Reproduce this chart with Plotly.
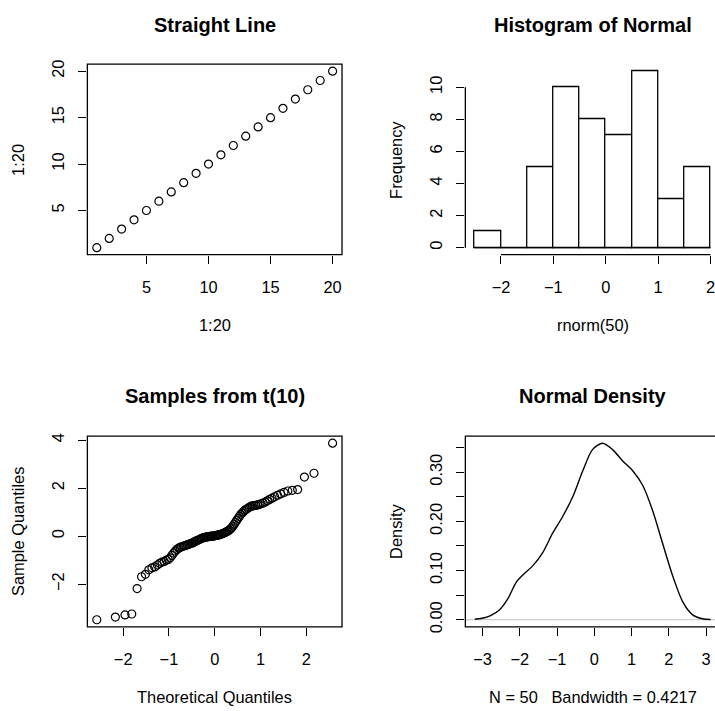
import statistics
import plotly.graph_objects as go

# ---------------- data ----------------
line_x = list(range(1, 21))
line_y = list(range(1, 21))

hist_breaks = [-2.5, -2.0, -1.5, -1.0, -0.5, 0.0, 0.5, 1.0, 1.5, 2.0]
hist_counts = [1, 0, 5, 10, 8, 7, 11, 3, 5]

# sorted sample from t(10), n = 100
t_sample = [
    -3.48, -3.37, -3.28, -3.24, -2.18, -1.69, -1.59, -1.40, -1.32, -1.28,
    -1.20, -1.13, -1.08, -1.05, -1.00, -0.97, -0.90, -0.80, -0.70, -0.62,
    -0.55, -0.50, -0.47, -0.44, -0.42, -0.40, -0.38, -0.36, -0.34, -0.32,
    -0.30, -0.28, -0.25, -0.22, -0.19, -0.17, -0.15, -0.12, -0.10, -0.08,
    -0.06, -0.05, -0.04, -0.03, -0.02, -0.01, -0.005, 0.00, 0.00, 0.01,
    0.02, 0.03, 0.04, 0.05, 0.06, 0.08, 0.10, 0.12, 0.14, 0.16,
    0.19, 0.22, 0.26, 0.30, 0.35, 0.42, 0.50, 0.58, 0.66, 0.74,
    0.82, 0.90, 0.96, 1.02, 1.08, 1.12, 1.16, 1.20, 1.24, 1.26,
    1.27, 1.28, 1.30, 1.32, 1.35, 1.38, 1.42, 1.47, 1.53, 1.58,
    1.64, 1.70, 1.76, 1.82, 1.88, 1.91, 1.94, 2.46, 2.62, 3.87,
]

dens_x = [-3.21, -2.95, -2.80, -2.55, -2.32, -2.10, -1.92, -1.65, -1.39, -1.12,
          -0.85, -0.58, -0.31, -0.05, 0.22, 0.49, 0.76, 1.03, 1.30, 1.56,
          1.83, 2.10, 2.37, 2.64, 2.90, 3.12]
dens_y = [0.001, 0.004, 0.008, 0.020, 0.043, 0.076, 0.091, 0.110, 0.136, 0.176,
          0.210, 0.250, 0.303, 0.346, 0.359, 0.346, 0.323, 0.303, 0.273, 0.223,
          0.156, 0.090, 0.037, 0.010, 0.002, 0.0006]
dens_n = 50
dens_bw = 0.4217

# theoretical normal quantiles at ppoints(n)
n_t = len(t_sample)
nd = statistics.NormalDist()
theo_q = [nd.inv_cdf((i - 0.5) / n_t) for i in range(1, n_t + 1)]

# ---------------- geometry (pixels) ----------------
W, H = 715, 711
COL_L = (87.5, 342.5)
COL_R = (466.0, 721.0)
ROW_T = (61.0, 254.3)
ROW_B = (438.3, 631.7)


def px(x):
    return x / W


def py(y):
    return 1 - y / H


def rrange(lo, hi):
    d = hi - lo
    return [lo - 0.04 * d, hi + 0.04 * d]


def clipped(rng, col):
    # visible part of a range whose plot region runs past the page edge
    lo, hi = rng
    frac = (min(col[1], W) - col[0]) / (col[1] - col[0])
    return [lo, lo + (hi - lo) * frac]


FONT = "Liberation Sans, Arial, Helvetica, sans-serif"
TICK_FS = 16.4
BLACK = "#000000"

fig = go.Figure()

mk = dict(symbol="circle-open", size=8, color=BLACK, line=dict(width=1.2, color=BLACK))

fig.add_trace(go.Scatter(x=line_x, y=line_y, mode="markers", marker=mk,
                         xaxis="x", yaxis="y", showlegend=False))

mids = [(a + b) / 2 for a, b in zip(hist_breaks[:-1], hist_breaks[1:])]
fig.add_trace(go.Bar(x=mids, y=hist_counts, width=hist_breaks[1] - hist_breaks[0],
                     marker=dict(color="white", line=dict(color=BLACK, width=1.3)),
                     xaxis="x2", yaxis="y2", showlegend=False))

fig.add_trace(go.Scatter(x=theo_q, y=t_sample, mode="markers", marker=mk,
                         xaxis="x3", yaxis="y3", showlegend=False))

fig.add_trace(go.Scatter(x=dens_x, y=dens_y, mode="lines",
                         line=dict(color=BLACK, width=1.4, shape="spline", smoothing=0.8),
                         xaxis="x4", yaxis="y4", showlegend=False))

tick_font = dict(family=FONT, size=TICK_FS, color=BLACK)


def xax(dom, rng, vals, text=None):
    return dict(domain=[px(dom[0]), min(px(dom[1]), 1)], range=rng, tickvals=vals,
                ticktext=text if text is not None else [str(v).replace("-", "\u2212") for v in vals],
                ticks="outside", ticklen=8, tickwidth=1.2, tickcolor=BLACK,
                showgrid=False, zeroline=False, showline=False,
                tickfont=tick_font, ticklabelstandoff=10, ticklabeloverflow="allow")


def yax(dom, rng, vals, anchor, text=None):
    return dict(domain=[py(dom[1]), py(dom[0])], range=rng, tickvals=vals,
                ticktext=text if text is not None else [str(v).replace("-", "\u2212") for v in vals],
                ticks="outside", ticklen=8, tickwidth=1.2, tickcolor=BLACK,
                showgrid=False, zeroline=False, showline=False, tickangle=-90,
                tickfont=tick_font, ticklabelstandoff=8, anchor=anchor)


tl_x = rrange(min(line_x), max(line_x))
tl_y = rrange(min(line_y), max(line_y))
tr_x = clipped(rrange(hist_breaks[0], hist_breaks[-1]), COL_R)
tr_y = rrange(0, max(hist_counts))
bl_x = rrange(min(theo_q), max(theo_q))
bl_y = rrange(min(t_sample), max(t_sample))
br_full_x = rrange(min(dens_x), max(dens_x))
br_x = clipped(br_full_x, COL_R)
br_y = rrange(0, max(dens_y))

dens_ticks = [0.0, 0.05, 0.10, 0.15, 0.20, 0.25, 0.30, 0.35]
dens_text = ["0.00", "", "0.10", "", "0.20", "", "0.30", ""]

fig.update_layout(
    width=W, height=H, margin=dict(l=0, r=0, t=0, b=0),
    paper_bgcolor="white", plot_bgcolor="rgba(0,0,0,0)",
    bargap=0,
    xaxis=dict(**xax(COL_L, tl_x, [5, 10, 15, 20]), anchor="y"),
    yaxis=yax(ROW_T, tl_y, [5, 10, 15, 20], "x"),
    xaxis2=dict(**xax(COL_R, tr_x, [-2, -1, 0, 1, 2]), anchor="y2"),
    yaxis2=yax(ROW_T, tr_y, [0, 2, 4, 6, 8, 10], "x2"),
    xaxis3=dict(**xax(COL_L, bl_x, [-2, -1, 0, 1, 2]), anchor="y3"),
    yaxis3=yax(ROW_B, bl_y, [-2, 0, 2, 4], "x3"),
    xaxis4=dict(**xax(COL_R, br_x, [-3, -2, -1, 0, 1, 2, 3]), anchor="y4"),
    yaxis4=yax(ROW_B, br_y, dens_ticks, "x4", dens_text),
)

shapes = []
line_style = dict(color=BLACK, width=1.3)
# plot boxes
for col, row in [(COL_L, ROW_T), (COL_L, ROW_B), (COL_R, ROW_B)]:
    shapes.append(dict(type="rect", xref="paper", yref="paper",
                       x0=px(col[0]), x1=px(col[1]), y0=py(row[1]), y1=py(row[0]),
                       line=line_style, fillcolor="rgba(0,0,0,0)", layer="above"))
# histogram axes run from first to last tick only
shapes.append(dict(type="line", xref="x2", yref="paper", x0=-2, x1=2,
                   y0=py(ROW_T[1]), y1=py(ROW_T[1]), line=line_style))
shapes.append(dict(type="line", xref="paper", yref="y2", x0=px(COL_R[0]), x1=px(COL_R[0]),
                   y0=0, y1=10, line=line_style))
# histogram baseline under all bins
shapes.append(dict(type="line", xref="x2", yref="y2", x0=hist_breaks[0], x1=hist_breaks[-1],
                   y0=0, y1=0, line=line_style, layer="above"))
# zero line of the density plot
shapes.append(dict(type="line", xref="paper", yref="y4", x0=px(COL_R[0]), x1=px(COL_R[1]),
                   y0=0, y1=0, line=dict(color="#bebebe", width=1.2), layer="below"))
fig.update_layout(shapes=shapes)

ann = []


def text(t, x, y, size=TICK_FS, bold=False, angle=0):
    ann.append(dict(text=f"<b>{t}</b>" if bold else t, x=px(x), y=py(y),
                    xref="paper", yref="paper", xanchor="center", yanchor="middle",
                    showarrow=False, textangle=angle,
                    font=dict(family=FONT, size=size, color=BLACK)))


cl = (COL_L[0] + COL_L[1]) / 2
cr = (COL_R[0] + COL_R[1]) / 2
text("Straight Line", cl, 21, 20, True)
text("Histogram of Normal", cr, 21, 20, True)
text("Samples from t(10)", cl, 398, 20, True)
text("Normal Density", cr, 398, 20, True)

text("1:20", cl, ROW_T[1] + 71)
text("rnorm(50)", cr, ROW_T[1] + 71)
text("Theoretical Quantiles", cl, ROW_B[1] + 71)
text(f"N = {dens_n}   Bandwidth = {dens_bw}", cr, ROW_B[1] + 71)

text("1:20", COL_L[0] - 69, (ROW_T[0] + ROW_T[1]) / 2, angle=-90)
text("Frequency", COL_R[0] - 69, (ROW_T[0] + ROW_T[1]) / 2, angle=-90)
text("Sample Quantiles", COL_L[0] - 69, (ROW_B[0] + ROW_B[1]) / 2, angle=-90)
text("Density", COL_R[0] - 69, (ROW_B[0] + ROW_B[1]) / 2, angle=-90)
fig.update_layout(annotations=ann)

fig.write_html("out.html")
